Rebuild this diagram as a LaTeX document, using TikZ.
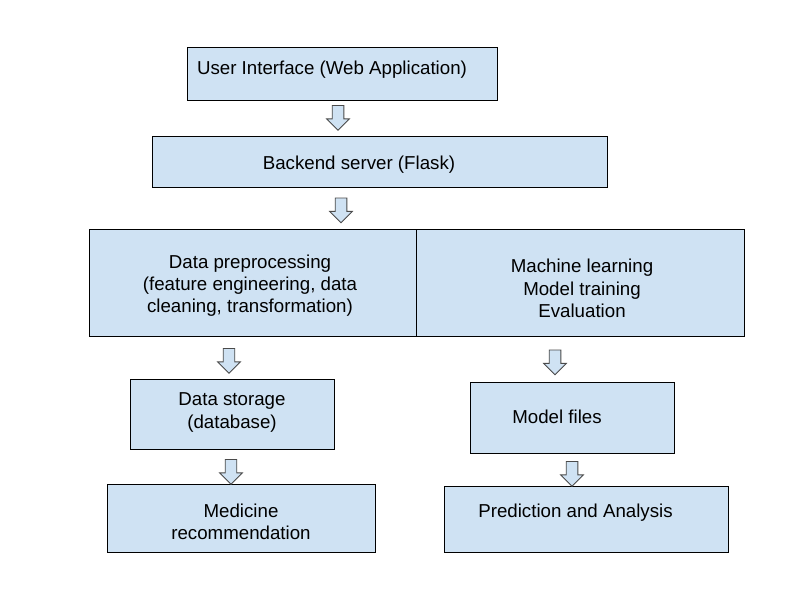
\documentclass[tikz,border=0pt]{standalone}
\usepackage{fontspec}
\setmainfont{Liberation Sans}
\usetikzlibrary{shapes.arrows,positioning}
\definecolor{boxBlue}{HTML}{CFE2F3}
\definecolor{arrowLine}{HTML}{4A4A4A}
\begin{document}
\begin{tikzpicture}[x=0.025cm,y=-0.025cm]

    \tikzstyle{commonNode}=[font=\fontsize{13.3}{15.8}\selectfont, align=center, inner sep=0pt]
    \tikzstyle{block}=[rectangle, draw=black, line width=0.7pt, fill=boxBlue]
    \tikzstyle{caption}=[commonNode]
    \tikzstyle{flow}=[single arrow, draw=arrowLine, line width=0.6pt, fill=boxBlue, rotate=-90,
                      minimum height=0.62cm, minimum width=0.56cm, inner sep=0.135cm,
                      single arrow head extend=0.14cm, single arrow tip angle=90]

    % Page size
    \def \unit {0.025cm}
    \useasboundingbox (0,0) rectangle (800,600);

    % Boxes
    \node at (342,73.5)   [block, minimum width=310*\unit, minimum height=53*\unit]  (UI)     {};
    \node at (379.5,161.5)[block, minimum width=455*\unit, minimum height=51*\unit]  (BS)     {};
    \node at (252.5,282.5)[block, minimum width=327*\unit, minimum height=107*\unit] (DP)     {};
    \node at (580,282.5)  [block, minimum width=328*\unit, minimum height=107*\unit] (ML)     {};
    \node at (232,414)    [block, minimum width=204*\unit, minimum height=70*\unit]  (DS)     {};
    \node at (572,417.5)  [block, minimum width=204*\unit, minimum height=71*\unit]  (MF)     {};
    \node at (241,518)    [block, minimum width=268*\unit, minimum height=68*\unit]  (MR)     {};
    \node at (586,519)    [block, minimum width=284*\unit, minimum height=66*\unit]  (PA)     {};

    % Texts
    \node at (332,70)     [caption] (UItext) {User Interface (Web Application)};
    \node at (359,165)    [caption] (BStext) {Backend server (Flask)};
    \node at (250,285.5)  [caption] (DPtext) {Data preprocessing \\ (feature engineering, data \\ cleaning, transformation)};
    \node at (582,288.5)  [caption] (MLtext) {Machine learning \\ Model training \\ Evaluation};
    \node at (232,412.5)  [caption] (DStext) {Data storage \\ (database)};
    \node at (557,417)    [caption] (MFtext) {Model files};
    \node at (241,521.5)  [caption] (MRtext) {Medicine \\ recommendation};
    \node at (575.5,513)  [caption] (PAtext) {Prediction and Analysis};

    % Block arrows
    \node at (338,115)    [flow] (UItoBS) {};
    \node at (341,207.5)  [flow] (BStoDP) {};
    \node at (229,358)    [flow] (DPtoDS) {};
    \node at (555,359.5)  [flow] (MLtoMF) {};
    \node at (231,469)    [flow] (DStoMR) {};
    \node at (572,471)    [flow] (MFtoPA) {};
\end{tikzpicture}
\end{document}
